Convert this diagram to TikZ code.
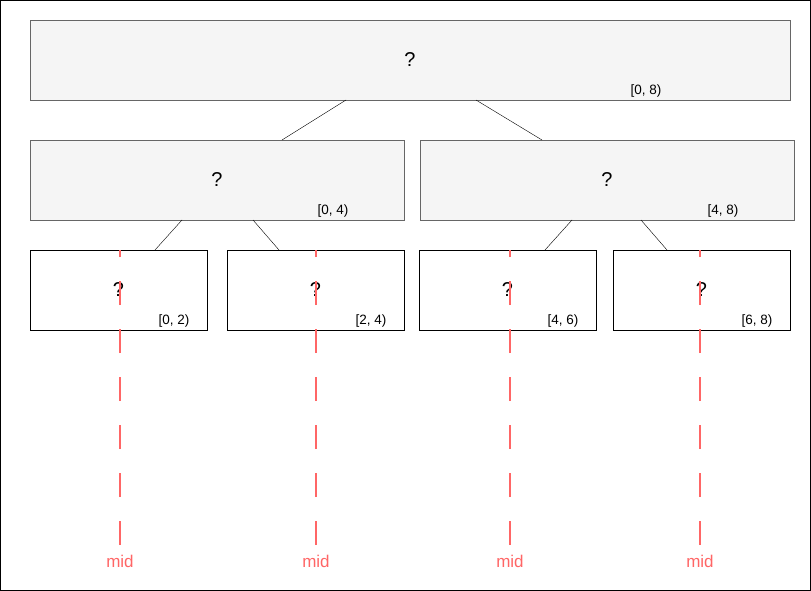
\documentclass[tikz,border=0pt]{standalone}
\usepackage{fontspec}
\setmainfont{Liberation Sans}
\usetikzlibrary{calc}
\definecolor{boxgray}{HTML}{F5F5F5}
\definecolor{edgegray}{HTML}{666666}
\definecolor{midred}{HTML}{FF6666}

\begin{document}
\begin{tikzpicture}[x=1pt,y=-1pt,
    inner box/.style={draw=edgegray,fill=boxgray,minimum height=80pt,inner sep=0pt,outer sep=0pt,font=\fontsize{20}{24}\selectfont},
    leaf box/.style={draw=black,fill=white,minimum width=177pt,minimum height=80pt,inner sep=0pt,outer sep=0pt,font=\fontsize{20}{24}\selectfont},
    rangetext/.style={font=\fontsize{13.5}{16}\selectfont},
    midline/.style={draw=midred,line width=2pt,dash pattern=on 24pt off 24pt},
    midlabel/.style={text=midred,font=\fontsize{17}{20}\selectfont}]
  \useasboundingbox (0,0) rectangle (811,591);
  \draw (0.5,0.5) rectangle (810.5,590.5); % frame

  %% tree
  \node[inner box,minimum width=760pt] (root) at (410,60) {?};
  \node[inner box,minimum width=374pt] (left) at (217,180) {?};
  \node[inner box,minimum width=374pt] (right) at (607,180) {?};
  \node[leaf box] (leafA) at (118.5,290) {?};
  \node[leaf box] (leafB) at (315.5,290) {?};
  \node[leaf box] (leafC) at (507.5,290) {?};
  \node[leaf box] (leafD) at (701.5,290) {?};

  \node[rangetext] (rangeRoot) at (646,91) {[0, 8)};
  \node[rangetext] (rangeLeft) at (333,211) {[0, 4)};
  \node[rangetext] (rangeRight) at (723,211) {[4, 8)};
  \node[rangetext] (rangeA) at (174,321) {[0, 2)};
  \node[rangetext] (rangeB) at (371,321) {[2, 4)};
  \node[rangetext] (rangeC) at (563,321) {[4, 6)};
  \node[rangetext] (rangeD) at (757,321) {[6, 8)};

  \draw ([xshift=-64pt]root.south) -- ([xshift=65pt]left.north);
  \draw ([xshift=66pt]root.south) -- ([xshift=-65pt]right.north);
  \draw ([xshift=-35pt]left.south) -- ([xshift=36.5pt]leafA.north);
  \draw ([xshift=36pt]left.south) -- ([xshift=-36.5pt]leafB.north);
  \draw ([xshift=-35pt]right.south) -- ([xshift=37.5pt]leafC.north);
  \draw ([xshift=34pt]right.south) -- ([xshift=-34.5pt]leafD.north);

  %% mid lines
  \foreach \x/\n in {120/A,316/B,510/C,700/D}{
    \node[midlabel] (mid\n) at (\x,561) {mid};
    \coordinate (top\n) at (\x,250);
    \coordinate (bot\n) at (\x,545);
    \draw[midline] (bot\n) -- (top\n);
  }
\end{tikzpicture}
\end{document}
